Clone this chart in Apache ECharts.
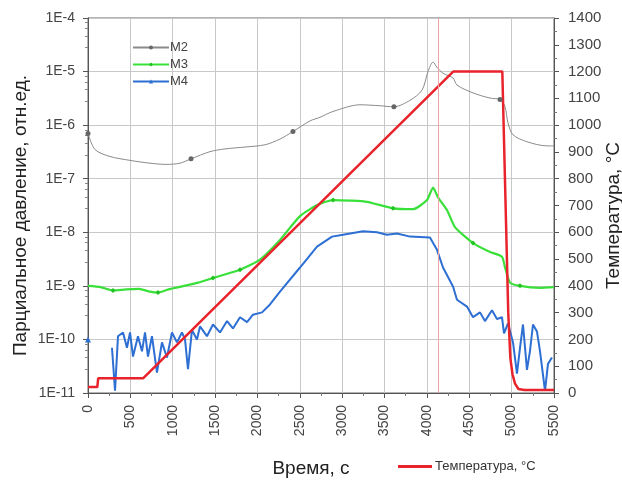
<!DOCTYPE html>
<html>
<head>
<meta charset="utf-8">
<script src="https://cdn.jsdelivr.net/npm/echarts@6/dist/echarts.min.js"></script>
<style>
  html, body { margin: 0; padding: 0; background: #fff; }
  #chart { width: 622px; height: 481px; }
</style>
</head>
<body>
<div id="chart"></div>
<script>
// парциальные давления (логарифмическая шкала), время в секундах
const m2Time = [0, 83, 260, 496, 732, 921, 1086, 1216, 1440, 1617, 1853, 2089, 2266, 2419, 2620, 2738, 2892, 3210, 3446, 3611, 3800, 3942, 4013, 4072, 4119, 4190, 4308, 4355, 4544, 4745, 4863, 4922, 4957, 5016, 5181, 5417, 5500];
const m2Val = [7e-7, 3.5e-7, 2.6e-7, 2.2e-7, 1.95e-7, 1.85e-7, 1.95e-7, 2.35e-7, 3.2e-7, 3.6e-7, 3.9e-7, 4.3e-7, 5.5e-7, 7.6e-7, 1.2e-6, 1.4e-6, 1.8e-6, 2.4e-6, 2.3e-6, 2.2e-6, 2.9e-6, 4.5e-6, 1e-5, 1.5e-5, 1.2e-5, 9.3e-6, 7.6e-6, 5.6e-6, 4e-6, 3.2e-6, 3e-6, 2.2e-6, 1.1e-6, 6.6e-7, 4.9e-7, 4.1e-7, 4.1e-7];
const m2Marks = [0, 7, 13, 19, 30];

const m3Time = [0, 150, 295, 450, 600, 732, 826, 950, 1086, 1300, 1475, 1794, 2030, 2266, 2502, 2700, 2892, 3100, 3293, 3600, 3836, 4001, 4072, 4131, 4237, 4331, 4544, 4745, 4886, 4922, 4981, 5099, 5335, 5500];
const m3Val = [1e-9, 9.5e-10, 8.2e-10, 8.6e-10, 8.8e-10, 7.8e-10, 7.5e-10, 8.6e-10, 9.6e-10, 1.15e-9, 1.4e-9, 2e-9, 3.1e-9, 7.2e-9, 2e-8, 3.2e-8, 4e-8, 3.9e-8, 3.7e-8, 2.8e-8, 2.7e-8, 4e-8, 6.8e-8, 4.5e-8, 2.6e-8, 1.25e-8, 6.3e-9, 4.3e-9, 3.5e-9, 2.2e-9, 1.15e-9, 1e-9, 9.2e-10, 9.5e-10];
const m3Marks = [2, 6, 10, 11, 16, 19, 26, 31];

const m4Time = [0, 224, 283, 319, 354, 413, 460, 496, 531, 590, 637, 673, 708, 755, 814, 873, 932, 991, 1050, 1109, 1145, 1180, 1227, 1286, 1322, 1404, 1475, 1558, 1641, 1711, 1794, 1877, 1947, 2054, 2148, 2266, 2502, 2703, 2880, 3010, 3246, 3411, 3529, 3647, 3800, 4036, 4119, 4190, 4308, 4355, 4473, 4544, 4627, 4685, 4768, 4827, 4886, 4910, 4957, 5016, 5063, 5099, 5134, 5181, 5216, 5252, 5299, 5335, 5394, 5429, 5476];
const m4Val = [1e-10, null, 7e-11, 1.1e-11, 1.15e-10, 1.35e-10, 7e-11, 1.35e-10, 4.8e-11, 1.15e-10, 6e-11, 1.35e-10, 4.8e-11, 1.15e-10, 2.4e-11, 8.8e-11, 4.6e-11, 1.35e-10, 8.8e-11, 1.35e-10, 1e-10, 2.8e-11, 1.5e-10, 1e-10, 1.75e-10, 1.15e-10, 1.9e-10, 1.35e-10, 2.2e-10, 1.6e-10, 2.6e-10, 2.1e-10, 2.9e-10, 3.2e-10, 4.5e-10, 7.8e-10, 2.2e-9, 5.4e-9, 8.3e-9, 9e-9, 1.05e-8, 1e-8, 9e-9, 9.5e-9, 8.3e-9, 8e-9, 4.7e-9, 2.2e-9, 9.7e-10, 5.5e-10, 4.1e-10, 2.6e-10, 3.2e-10, 2.2e-10, 3.5e-10, 2.4e-10, 2.6e-10, 1.3e-10, 2e-10, 8.8e-11, 2.3e-11, 7e-11, 1.9e-10, 2.7e-11, 6e-11, 1.9e-10, 1.4e-10, 6e-11, 1.1e-11, 3.5e-11, 4.6e-11];

// температура, °C
const tempTime = [0, 110, 120, 650, 4310, 4890, 4960, 4985, 5010, 5040, 5080, 5150, 5500];
const tempVal = [22, 22, 55, 55, 1200, 1200, 300, 130, 70, 35, 15, 11, 11];

const xTicks = { min: 0, max: 5500, step: 500 };
const pMin = 1e-11, pMax = 1e-4;
const tMin = 0, tMax = 1400, tStep = 100;

const zip = (t, v) => t.map((x, i) => [x, v[i]]);
const markSize = (marks, size) => (val, p) => (marks.indexOf(p.dataIndex) >= 0 ? size : 0);

const chart = echarts.init(document.getElementById('chart'));
const axisText = { color: '#444', fontSize: 14, fontFamily: 'Liberation Sans' };
const nameText = { color: '#222', fontSize: 19, fontFamily: 'Liberation Sans' };

chart.setOption({
  animation: false,
  grid: {
    left: 88, right: 68, top: 18, bottom: 88,
    outerBoundsMode: 'none', containLabel: false,
    show: true, borderColor: '#666', borderWidth: 1
  },
  legend: [
    {
      data: ['M2', 'M3', 'M4'],
      orient: 'vertical',
      left: 127, top: 36,
      itemWidth: 36, itemHeight: 5, itemGap: 4,
      textStyle: { color: '#444', fontSize: 13, fontFamily: 'Liberation Sans', padding: [0, 0, 0, -4] }
    },
    {
      data: [{ name: 'Температура, °C', icon: 'rect' }],
      left: 393, top: 455,
      itemWidth: 34, itemHeight: 3, itemGap: 4,
      textStyle: { color: '#333', fontSize: 13, fontFamily: 'Liberation Sans', padding: [0, 0, 0, -2] }
    }
  ],
  xAxis: {
    type: 'value',
    min: xTicks.min, max: xTicks.max, interval: xTicks.step,
    name: 'Время, с', nameLocation: 'middle', nameGap: 66, nameMoveOverlap: false,
    nameTextStyle: Object.assign({}, nameText, { padding: [0, 20, 0, 0] }),
    axisLine: { lineStyle: { color: '#555' } },
    axisTick: { lineStyle: { color: '#555' }, length: 5 },
    minorTick: { show: true, splitNumber: 2, length: 3, lineStyle: { color: '#777' } },
    axisLabel: Object.assign({ rotate: 90, margin: 12, formatter: v => String(v) }, axisText),
    splitLine: { show: true, lineStyle: { color: '#c8c8c8' } }
  },
  yAxis: [
    {
      type: 'log', logBase: 10, min: pMin, max: pMax,
      name: 'Парциальное давление, отн.ед.', nameLocation: 'middle', nameGap: 58, nameRotate: 90,
      nameMoveOverlap: false,
      nameTextStyle: Object.assign({}, nameText, { padding: [0, 20, 0, 0] }),
      axisLine: { show: true, lineStyle: { color: '#555' } },
      axisTick: { show: true, lineStyle: { color: '#555' }, length: 5 },
      minorTick: { show: true, splitNumber: 5, length: 3, lineStyle: { color: '#888' } },
      axisLabel: Object.assign({ formatter: v => '1E' + Math.round(Math.log10(v)), margin: 13 }, axisText),
      splitLine: { show: true, lineStyle: { color: '#c8c8c8' } }
    },
    {
      type: 'value', min: tMin, max: tMax, interval: tStep, position: 'right',
      name: 'Температура, °C', nameLocation: 'middle', nameGap: 50, nameRotate: 90,
      nameMoveOverlap: false,
      nameTextStyle: Object.assign({}, nameText, { padding: [0, 20, 0, 0] }),
      axisLine: { show: true, lineStyle: { color: '#555' } },
      axisTick: { show: true, lineStyle: { color: '#555' }, length: 5 },
      minorTick: { show: true, splitNumber: 2, length: 3, lineStyle: { color: '#777' } },
      axisLabel: Object.assign({ margin: 14, formatter: v => String(v) }, axisText, { fontSize: 15 }),
      splitLine: { show: false }
    }
  ],
  series: [
    {
      name: 'M2', type: 'line', yAxisIndex: 0, data: zip(m2Time, m2Val),
      smooth: 0.3, symbol: 'circle', symbolSize: markSize(m2Marks, 5), showAllSymbol: true,
      lineStyle: { color: '#8a8a8a', width: 1 }, itemStyle: { color: '#666' }
    },
    {
      name: 'M3', type: 'line', yAxisIndex: 0, data: zip(m3Time, m3Val),
      smooth: 0.2, symbol: 'diamond', symbolSize: markSize(m3Marks, 5), showAllSymbol: true,
      lineStyle: { color: '#3ae03a', width: 2.2 }, itemStyle: { color: '#22c322' }
    },
    {
      name: 'M4', type: 'line', yAxisIndex: 0, data: zip(m4Time, m4Val),
      symbol: 'triangle', symbolSize: markSize([0], 6), showAllSymbol: true, connectNulls: false,
      lineStyle: { color: '#2d6fd2', width: 2 }, itemStyle: { color: '#2d6fd2' }
    },
    {
      name: 'Температура, °C', type: 'line', yAxisIndex: 1, data: zip(tempTime, tempVal),
      symbol: 'none',
      lineStyle: { color: '#e8232b', width: 2.5 }, itemStyle: { color: '#e8232b' },
      markLine: {
        silent: true, symbol: 'none', label: { show: false },
        lineStyle: { color: '#f0a3a3', width: 1, type: 'solid' },
        data: [{ xAxis: 4130 }]
      }
    }
  ]
});
</script>
</body>
</html>
